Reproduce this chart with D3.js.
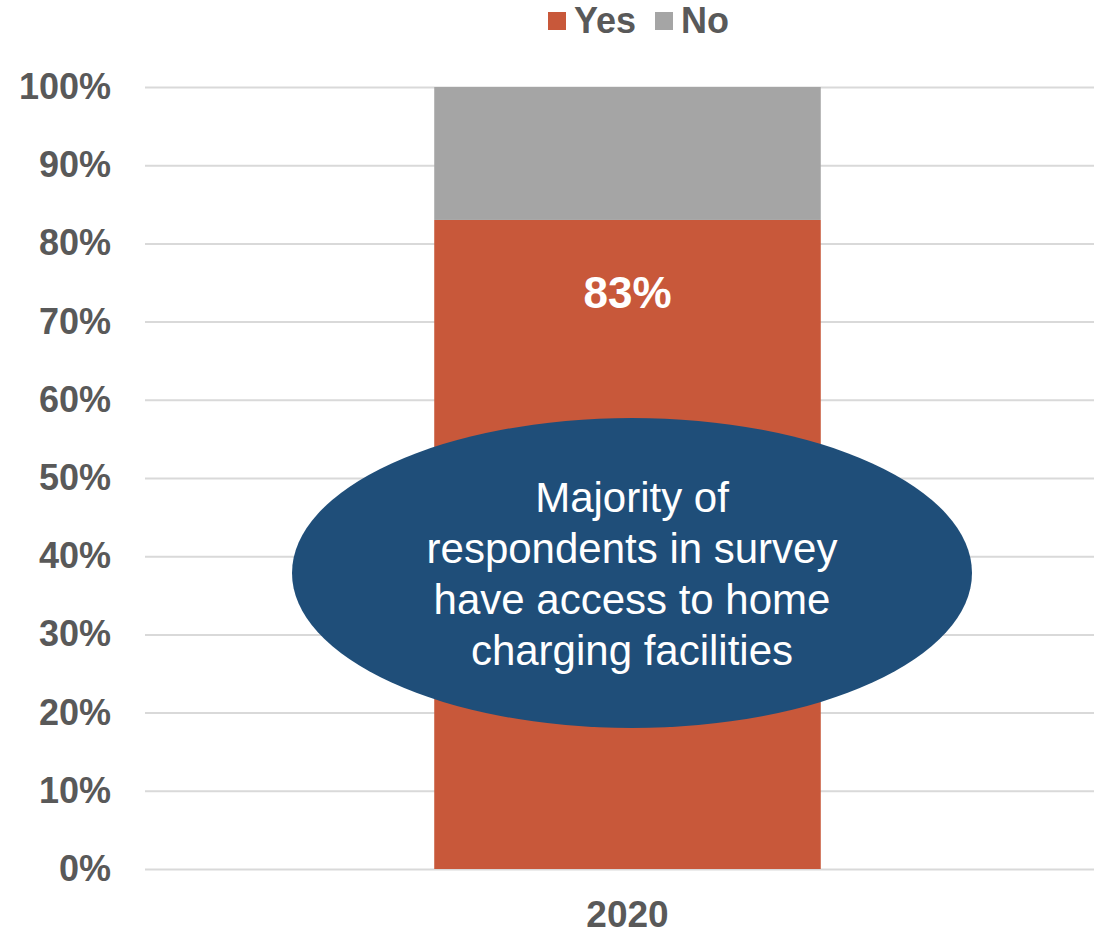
<!DOCTYPE html>
<html>
<head>
<meta charset="utf-8">
<script src="https://cdn.jsdelivr.net/npm/d3@7"></script>
<style>
  body { margin: 0; background: #fff; }
  text { font-family: "Liberation Sans", Arial, sans-serif; }
</style>
</head>
<body>
<script>
var years = ["2020"];
var yesValues = [0.83];
var noValues = [0.17];
var seriesNames = ["Yes", "No"];
var tickValues = [0, 0.1, 0.2, 0.3, 0.4, 0.5, 0.6, 0.7, 0.8, 0.9, 1.0];
var calloutLines = ["Majority of", "respondents in survey", "have access to home", "charging facilities"];

var w = 1094, h = 934;
var colors = { Yes: "#C8583A", No: "#A5A5A5" };

var svg = d3.select("body")
    .append("svg")
    .attr("width", w)
    .attr("height", h);

var y = d3.scaleLinear()
    .domain([0, 1])
    .range([869, 87]);

var x = d3.scaleBand()
    .domain(years)
    .range([145, 1110])
    .padding(0.428);

// gridlines
var grid = svg.append("g")
    .attr("class", "grid")
    .attr("transform", "translate(145,0)")
    .call(d3.axisLeft(y).tickValues(tickValues).tickSize(-(w - 145)).tickFormat(""));
grid.select(".domain").remove();
grid.selectAll("line").attr("stroke", "#D9D9D9").attr("stroke-width", 2);

// y labels
var yAxis = svg.append("g")
    .attr("class", "yaxis")
    .attr("transform", "translate(111,0)")
    .call(d3.axisLeft(y).tickValues(tickValues).tickSize(0).tickPadding(0).tickFormat(d3.format(".0%")));
yAxis.select(".domain").remove();
yAxis.selectAll("text")
    .attr("fill", "#595959")
    .style("font-size", "36px")
    .style("font-weight", "bold")
    .style("font-family", "'Liberation Sans', Arial, sans-serif");

// stacked bar
var rows = years.map(function(yr, i){ return { year: yr, Yes: yesValues[i], No: noValues[i] }; });
var stack = d3.stack().keys(seriesNames)(rows);

svg.selectAll(".series")
    .data(stack)
    .enter()
    .append("g")
    .attr("class", "series")
    .attr("fill", function(d){ return colors[d.key]; })
    .selectAll("rect")
    .data(function(d){ return d; })
    .enter()
    .append("rect")
    .attr("x", function(d){ return x(d.data.year); })
    .attr("width", x.bandwidth())
    .attr("y", function(d){ return y(d[1]); })
    .attr("height", function(d){ return y(d[0]) - y(d[1]); });

// data label
svg.selectAll(".valueLabel")
    .data(rows)
    .enter()
    .append("text")
    .attr("class", "valueLabel")
    .attr("x", function(d){ return x(d.year) + x.bandwidth() / 2; })
    .attr("y", 308)
    .attr("text-anchor", "middle")
    .attr("fill", "#fff")
    .style("font-size", "44px")
    .style("font-weight", "bold")
    .text(function(d){ return d3.format(".0%")(d.Yes); });

// x label
svg.selectAll(".xLabel")
    .data(years)
    .enter()
    .append("text")
    .attr("class", "xLabel")
    .attr("x", function(d){ return x(d) + x.bandwidth() / 2; })
    .attr("y", 927)
    .attr("text-anchor", "middle")
    .attr("fill", "#595959")
    .style("font-size", "37px")
    .style("font-weight", "bold")
    .text(function(d){ return d; });

// callout ellipse
svg.append("ellipse")
    .attr("cx", 632)
    .attr("cy", 573)
    .attr("rx", 340)
    .attr("ry", 155)
    .attr("fill", "#1F4E79");

svg.append("g")
    .selectAll("text")
    .data(calloutLines)
    .enter()
    .append("text")
    .attr("x", 632)
    .attr("y", function(d, i){ return 512 + i * 51; })
    .attr("text-anchor", "middle")
    .attr("fill", "#fff")
    .style("font-size", "42px")
    .text(function(d){ return d; });

// legend
var legendPos = [548, 655];
var legend = svg.selectAll(".legend")
    .data(seriesNames)
    .enter()
    .append("g")
    .attr("class", "legend")
    .attr("transform", function(d, i){ return "translate(" + legendPos[i] + ",0)"; });

legend.append("rect")
    .attr("x", 0)
    .attr("y", 12)
    .attr("width", 18)
    .attr("height", 18)
    .attr("fill", function(d){ return colors[d]; });

legend.append("text")
    .attr("x", 26)
    .attr("y", 33)
    .attr("fill", "#595959")
    .style("font-size", "36px")
    .style("font-weight", "bold")
    .text(function(d){ return d; });
</script>
</body>
</html>
